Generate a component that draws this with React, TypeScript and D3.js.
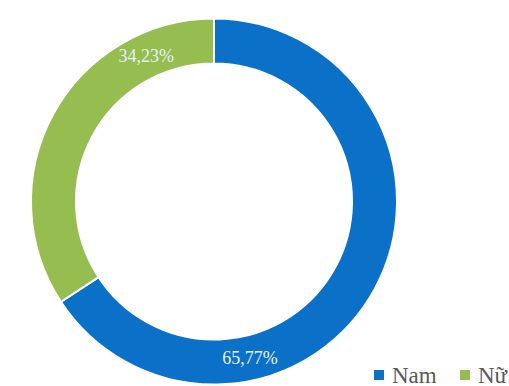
import React from "react";
import * as d3 from "d3";

const categories = ["Nam", "Nữ"];
const values = [65.77, 34.23];
const labels = ["65,77%", "34,23%"];
const colors = ["#0b70c8", "#95bd4f"];

const W = 509;
const H = 386;
const cx = 214;
const cy = 201.5;
const outerR = 183;
const innerR = 138;
const labelAngles = [167, 335];
const serif = "Liberation Serif";

export default function App() {
  const pie = d3.pie<number>().sort(null).value((d) => d)(values);
  const arc = d3.arc<d3.PieArcDatum<number>>().innerRadius(innerR).outerRadius(outerR);
  const labelR = (innerR + outerR) / 2;
  return (
    <svg width={W} height={H} style={{ position: "absolute", left: 0, top: 0, background: "#fff" }}>
      <g transform={`translate(${cx},${cy})`}>
        {pie.map((p, i) => (
          <path key={i} d={arc(p) || ""} fill={colors[i]} stroke="#ffffff" strokeWidth={2} />
        ))}
        {pie.map((p, i) => {
          const a = (labelAngles[i] * Math.PI) / 180;
          return (
            <text
              key={"l" + i}
              x={labelR * Math.sin(a)}
              y={-labelR * Math.cos(a)}
              textAnchor="middle"
              dominantBaseline="central"
              fill="#e8f0f8"
              style={{ fontFamily: serif, fontSize: 18 }}
            >
              {labels[i]}
            </text>
          );
        })}
      </g>
      <g>
        {categories.map((c, i) => (
          <g key={c} transform={`translate(${374 + i * 86},0)`}>
            <rect x={0} y={370} width={10} height={10} fill={colors[i]} />
            <text x={18} y={383} fill="#595959" style={{ fontFamily: serif, fontSize: 23 }}>
              {c}
            </text>
          </g>
        ))}
      </g>
    </svg>
  );
}
